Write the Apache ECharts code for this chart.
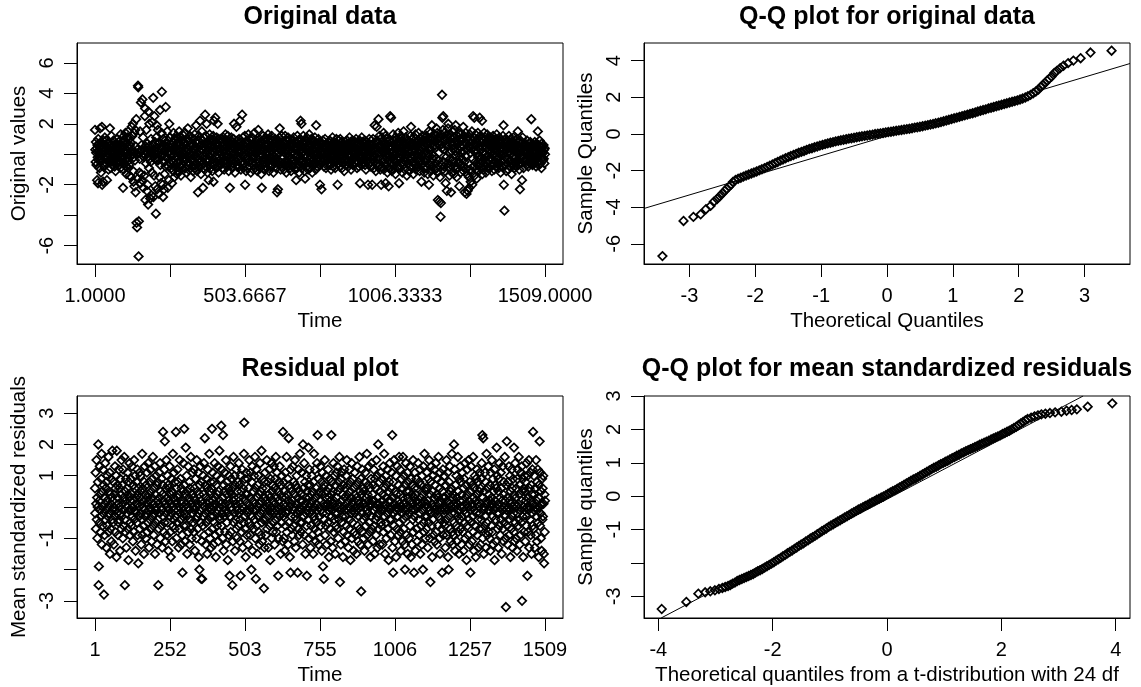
<!DOCTYPE html>
<html>
<head>
<meta charset="utf-8">
<script src="https://cdn.jsdelivr.net/npm/echarts@6/dist/echarts.min.js"></script>
<style>html,body{margin:0;padding:0;background:#fff}#c{width:1141px;height:687px}</style>
</head>
<body>
<div id="c"></div>
<script>
// Original data, in tenths (t = 1 .. 1509)
const originalTenths = [
16,3,-5,8,1,-7,4,-17,6,-2,-19,10,-4,2,7,-9,5,17,-1,3,-12,8,-3,18,-20,6,0,-18,9,-6,
4,-8,2,11,-3,6,-1,9,-6,3,-17,5,-2,7,0,-10,4,8,-5,1,17,-4,6,-9,2,12,-3,5,-7,1,
3,-5,9,0,-2,6,-8,4,1,-11,7,-3,5,2,-6,10,-1,3,-4,8,-7,0,6,-2,4,-9,13,1,-5,3,
6,-3,8,-1,-22,5,-10,12,2,-6,9,-4,14,-8,3,-13,7,1,-5,11,-2,15,-9,4,-7,10,-14,6,-1,8,
2,-15,-1,18,0,12,3,20,-11,-18,-2,14,-21,1,-4,16,-25,5,23,-45,0,-48,3,-16,45,44,-67,-44,1,-12,
-3,15,-19,2,34,-13,6,3,-17,36,-1,11,-22,4,-2,-14,0,25,30,-30,5,-6,16,1,-24,7,-20,-2,-33,28,
5,-9,20,-3,4,-29,1,-5,10,-27,2,-12,21,6,-1,37,-28,3,-14,25,-3,8,-21,0,-39,11,-4,19,-23,2,
-2,16,-4,7,-26,8,-15,1,29,-7,4,-19,3,14,41,-1,6,-20,-28,10,-5,-23,2,-13,9,-1,-8,31,3,5,
7,-2,15,-3,-22,9,-8,1,-17,20,2,-6,11,0,4,-4,-9,6,-19,3,-1,8,-11,14,-5,3,-15,10,-7,1,
5,-9,12,-2,7,-13,3,10,-6,1,-11,8,15,-4,6,-8,2,11,-14,4,-1,9,-7,13,-3,5,-10,7,0,-5,
8,-3,14,-9,2,6,-12,4,-1,10,-7,17,-5,3,-10,9,1,-6,12,-2,5,-15,7,-4,11,0,-8,6,-11,3,
-4,10,-7,3,13,-9,5,-2,8,19,-6,1,-11,7,4,-25,9,-3,12,-8,2,-5,22,-1,6,-13,10,-4,15,-7,
3,9,-22,5,-6,11,-2,7,-10,26,1,-8,12,4,20,-5,8,-12,2,6,-3,-17,9,-1,13,-7,5,-9,10,0,
-6,8,2,-11,6,-3,12,-18,4,22,-7,9,1,24,-5,7,-9,3,11,-2,6,20,-8,5,-12,10,-4,2,-6,9,
4,-7,10,0,-3,8,-9,5,2,-5,11,-1,6,-10,3,7,-4,13,-6,1,9,-2,-8,5,0,12,-5,3,-11,7,
-3,6,-22,4,9,-7,1,11,-4,5,-9,2,8,-1,-6,10,20,-3,7,-12,4,0,6,-5,18,2,-8,9,-2,5,
7,-4,3,10,-8,1,22,-2,5,-10,8,-5,2,26,-7,4,11,-1,-9,6,3,-6,12,-20,0,5,-11,8,-3,9,
-2,7,-9,4,13,-5,1,-8,10,3,-4,6,-12,9,0,-6,5,11,-3,2,-10,7,4,-7,14,-1,6,-9,3,8,
5,-6,9,1,-11,4,-3,16,-8,2,7,-5,10,-1,-9,6,3,-13,8,-22,0,5,-7,12,-4,2,9,-10,6,-2,
3,-8,11,-4,6,0,-9,7,2,-5,13,-3,4,-11,8,1,-6,10,-2,5,-8,3,12,-7,0,6,-4,9,-12,4,
-1,7,-6,4,10,-3,5,-9,2,8,-25,0,6,-23,-4,9,1,-7,11,17,-5,3,-10,6,2,-8,12,-3,5,-6,
8,-2,4,-10,7,1,-5,12,-7,3,6,-12,0,9,-4,5,-8,11,2,-6,4,-1,10,-9,3,7,-3,-11,6,1,
-5,9,2,-8,6,-3,11,0,-6,4,8,-10,3,-2,-17,7,5,-9,12,-1,4,-7,9,2,-12,6,-4,10,-3,22,
3,-6,20,5,-9,1,8,-4,12,-7,2,6,-11,4,-16,9,0,-5,7,-2,11,-8,3,6,-10,1,5,-3,13,-6,
4,-9,7,1,-5,10,-2,6,-12,3,8,-4,0,9,-7,5,-1,11,-6,2,-10,19,4,-3,7,-8,1,6,-5,10,
-2,5,-7,3,-20,8,1,-4,6,-23,2,7,-5,0,9,-3,4,-8,6,1,-6,10,-2,3,-9,5,0,7,-4,2,
6,-3,1,8,-6,4,-1,9,-7,2,5,-10,3,0,7,-4,11,-2,-8,5,2,-5,8,-1,4,-9,6,1,-3,10,
-4,3,7,-20,1,5,-6,9,-2,4,-8,2,10,-5,0,6,-3,8,-9,3,1,-6,7,-1,5,-11,4,2,-4,8,
1,-7,6,3,-3,9,-5,2,7,-8,0,5,-2,11,-6,4,-1,8,-10,3,6,-4,1,9,-7,2,5,-3,7,-5,
4,-2,8,-6,1,10,-4,3,-9,6,0,-5,7,2,-8,5,-1,9,-19,4,-3,6,-7,2,11,-4,1,-6,8,3,
-5,7,1,-3,9,-7,4,2,-10,6,-1,8,-4,3,5,-20,0,7,-6,10,-2,4,-8,1,6,-5,9,-3,2,-20,
6,-4,10,-1,3,-9,7,19,-5,2,8,-11,4,0,18,-6,9,-3,5,-8,23,1,-7,12,-2,4,-10,6,3,-20,
5,-8,11,2,-5,9,-3,14,-10,4,7,-6,1,12,-19,3,-7,10,-2,6,-12,8,0,-4,-21,9,-1,5,-9,25,
3,-6,24,-2,8,-11,5,1,-7,13,-4,9,2,-9,6,-1,11,-13,4,7,-5,10,-3,1,8,-8,14,-2,5,-19,
7,-3,10,-9,2,12,-6,4,-1,9,-12,5,1,-7,15,-4,3,8,-10,6,-2,11,-5,0,7,-14,4,9,-3,2,
-6,8,3,-11,6,1,-4,12,-8,18,-2,5,-9,10,2,-5,7,-13,4,11,-1,6,-7,3,13,-10,0,8,-4,5,
9,-2,6,-8,14,0,-5,7,-11,3,10,-4,2,-7,-18,8,-1,12,-6,4,-9,6,1,-12,9,3,-3,11,-5,7,
-4,12,-9,6,1,-13,8,-2,15,-20,4,10,-7,3,-11,14,-5,7,0,19,-8,11,-3,5,-14,9,-1,13,-10,6,
8,-6,12,-3,17,5,-9,14,-12,-30,7,-4,11,1,-31,9,-15,6,-41,-32,13,-7,4,39,24,-10,16,25,-5,10,
-8,14,3,-11,9,-19,6,-2,12,-24,5,10,-6,17,20,-9,1,13,-14,7,-3,11,-7,-25,8,2,-12,15,-4,6,
11,-5,8,-13,4,16,-8,2,-10,19,-1,9,-15,6,12,-4,7,-9,3,14,-6,-21,10,-2,5,-12,13,1,-7,9,
-3,10,-8,6,18,-11,2,12,-5,-25,8,-1,14,-9,4,-26,7,-13,11,-24,3,-6,9,-15,-22,5,13,-10,1,-18,
7,-12,4,15,-20,9,-3,25,-8,11,2,24,-14,6,-5,13,-10,3,8,-16,1,10,-7,14,-2,5,-11,9,-4,24,
-6,12,3,-9,8,-2,10,22,-13,5,-5,9,1,-10,14,-3,6,-8,11,0,-12,7,4,-6,13,-1,8,-9,3,10,
-4,7,2,-9,11,-2,5,-7,1,9,-11,4,-3,8,12,-6,0,6,-10,3,7,-5,10,-1,4,-8,13,-3,2,-6,
8,-3,5,-9,1,11,-6,3,7,-12,4,-1,9,-5,2,-8,6,12,-4,19,-20,3,-37,7,-2,10,-7,5,-11,4,
1,-6,9,-3,6,-10,4,12,-5,2,-8,7,0,10,-4,5,-13,3,8,-2,6,-7,11,-1,4,-9,2,7,-5,9,
-2,6,-8,4,10,-5,1,15,-7,3,8,-4,-10,5,-23,2,9,-6,3,-1,7,-17,4,11,-3,6,-9,2,5,-4,
3,-5,7,0,-3,6,-7,2,9,-4,1,5,-8,4,-2,7,-1,3,-6,8,0,-4,23,5,-3,6,-7,1,4,-5,
6,-2,3,-6,8,1,-4,5,-8,2,7,-3,4,-1,15,-5,6,0,-7,3,9,-2,5,-6,1,4,-9,7,-3,2,
5,-4,1,6,-3,3,-6,4,0
];

// Mean standardized residuals, in tenths (t = 1 .. 1509)
const residualTenths = [
6,-2,11,-7,1,15,-4,3,-10,0,8,20,-25,-19,2,-5,13,-1,4,-8,-3,9,17,-12,5,-6,0,12,-2,7,
-28,3,-9,1,14,-4,6,-1,-13,8,2,-6,10,-3,0,16,-8,5,-2,11,-15,4,-7,1,9,-11,3,-4,18,-1,
2,-5,8,-12,0,4,-3,13,-8,6,-1,10,-16,18,-2,7,3,-9,1,-5,12,-4,6,0,-14,9,-2,4,-7,15,
-3,7,1,-10,12,-6,3,-1,16,-4,-25,5,-8,2,9,-13,0,6,-2,11,-7,4,-17,8,-1,3,14,-9,2,-5,
9,-1,-6,4,13,-3,0,-11,7,2,-8,15,-4,6,-1,10,-14,3,-2,8,1,-5,12,-9,4,-18,6,0,-3,11,
-7,3,10,-2,5,-12,1,-4,17,-9,6,0,-6,2,-15,8,-1,13,-3,4,-10,7,-2,1,11,-8,3,-5,14,-1,
4,-13,2,8,-4,0,12,-7,5,-1,-11,3,9,-3,16,-6,1,-9,6,-2,13,-15,4,0,-5,10,-1,7,-12,2,
-4,8,-25,1,-7,11,3,-2,14,-10,5,0,-6,9,-1,-13,4,7,24,-3,2,-8,12,-5,21,1,-11,6,-2,15,
-9,3,0,10,-5,7,-14,2,-1,6,13,-3,-8,4,-16,1,9,-2,5,-11,0,17,-6,3,-4,11,-1,-7,8,2,
-3,24,6,-10,1,-5,12,3,-1,8,-13,4,0,-7,15,-2,9,-4,2,-12,6,1,-9,-21,5,-3,14,-6,0,25,
7,-2,-11,4,19,-6,1,10,-3,-15,5,0,13,-8,3,-1,8,-12,6,-4,2,16,-7,1,-10,4,-2,11,-5,0,
3,-8,12,-1,6,-14,2,9,-4,0,-10,15,-3,5,-7,1,11,-2,-16,4,-20,7,-1,13,-5,2,-23,8,-11,-23,
1,-6,10,-3,4,14,-9,0,22,-2,7,-12,3,-5,9,1,-15,6,-1,12,-4,2,-8,17,0,-10,5,-3,8,-13,
6,-1,25,-7,11,-3,2,-12,8,0,-5,14,3,-9,1,-16,7,-2,10,-6,4,-1,13,-11,5,0,-8,18,-3,2,
-4,9,1,26,-6,12,-2,-10,3,23,0,-14,7,-3,5,11,-8,1,-1,15,-12,4,-5,8,-2,-17,6,2,-9,10,
1,-22,5,-3,13,-8,0,9,-1,4,-25,6,-11,2,16,-5,3,-2,10,-14,7,-4,1,12,-7,0,-10,5,-1,8,
-6,3,14,-2,7,-11,1,-4,-22,10,5,-1,-8,12,0,-13,6,3,-5,17,27,-3,9,-7,2,-16,4,11,-1,-9,
4,-2,9,-12,1,6,-5,15,-1,3,-9,11,0,-6,-20,8,-3,13,-14,2,5,-1,-7,10,-4,1,16,-10,6,-23,
-1,12,-6,3,-15,7,0,-3,10,-8,4,1,-12,14,-2,5,-9,2,18,-5,-11,6,-1,9,-4,0,-26,8,-13,3,
11,-4,2,-9,6,0,15,-7,1,-3,8,-13,4,-1,12,-6,3,-17,9,-2,0,14,-10,5,-1,7,-8,2,-5,13,
-2,6,-12,1,9,-4,16,-1,-8,3,11,-6,0,5,-22,2,-10,8,-3,13,-1,4,-15,7,0,-5,10,-2,3,-11,
24,-3,8,-10,1,5,-14,0,11,-6,3,-2,16,-8,4,-1,9,-12,2,22,-5,7,0,-16,6,-21,12,-3,1,-7,
5,-9,2,13,-1,-6,8,0,-11,4,15,-3,7,-13,1,-4,10,-2,6,-21,3,-7,12,-1,-9,5,0,17,-5,2,
-8,4,-1,11,-5,2,-12,20,0,6,-3,14,-9,1,8,-15,3,-2,10,-6,-22,5,-1,7,-4,19,0,-10,3,12,
-2,7,-13,1,4,-6,10,-1,-9,5,2,-15,8,-3,17,0,-7,12,-4,3,-11,6,1,-5,14,-1,23,-8,4,-12,
9,-3,0,-10,5,13,-6,2,-1,8,-14,4,11,-2,-19,6,1,-23,7,-4,15,-9,3,0,-6,10,-2,-12,5,1,
-5,12,-1,6,-16,3,0,9,-7,2,-11,4,23,-3,8,-1,-13,5,1,14,-8,2,-4,10,-2,-15,7,0,-6,11,
3,-7,13,-2,5,-10,1,8,-4,16,0,-24,6,-1,-12,9,2,-5,11,-3,4,-16,7,0,-8,12,-1,3,-11,6,
-3,10,-6,1,15,-9,4,-1,7,-13,2,0,-7,12,-4,5,-17,8,-2,3,14,-10,1,-5,9,-1,-14,6,2,-8,
11,-2,4,-9,0,7,-15,3,-1,13,-6,2,-11,8,-3,1,16,-7,5,-12,0,9,-27,4,-2,12,-8,1,-4,6,
-10,5,1,-14,8,-3,11,0,-6,3,-1,17,-9,4,-2,7,-12,2,13,-5,0,-8,6,-16,1,9,-3,14,-7,2,
4,-11,7,-1,12,-6,2,-15,9,0,-4,6,-9,15,1,-3,10,-13,3,20,-7,1,-2,8,-12,5,0,11,-5,-1,
-6,9,2,-12,4,-1,13,-8,0,17,-3,6,-15,1,10,-5,3,-10,7,-2,12,-7,0,5,-17,2,8,-4,14,-1,
2,-9,6,-4,11,0,23,-13,3,-21,8,-2,15,-6,1,-11,5,-1,10,-16,4,0,-7,13,-3,2,-9,7,-1,16,
-5,1,12,-8,4,-14,0,9,-2,6,-11,3,16,-4,1,-7,10,-1,-12,-20,7,-3,14,0,-9,5,-1,11,-15,3,
8,-2,-10,5,0,13,-6,2,-16,9,-1,4,-12,7,1,-4,15,-8,3,-21,6,-3,11,-1,-14,4,0,9,-7,2,
-11,6,1,14,-4,0,-9,8,-2,12,-15,3,7,-6,1,-12,10,-1,4,-20,13,-5,2,-8,17,-3,0,6,-10,5,
1,-7,11,-3,6,-13,2,0,9,-5,15,-1,-10,4,-24,8,-2,13,-6,1,-16,5,-4,10,0,-9,3,12,-1,-11,
7,-2,14,-8,0,4,-12,9,-1,3,-6,16,-3,1,-10,6,-15,11,-4,2,8,-1,-7,-21,5,0,12,-9,3,-5,
-1,10,-6,3,-13,7,0,-4,15,-9,2,-1,11,-16,4,-20,8,-3,1,13,-7,5,-11,0,6,-2,17,-8,3,-12,
4,-9,1,20,-5,12,-2,-14,7,0,-6,10,3,-11,1,-3,16,-8,5,-1,-15,9,2,-4,13,-7,0,8,-12,4,
-3,11,-8,2,6,-14,0,9,-1,-5,14,-10,3,-2,7,-17,1,12,-6,4,-9,0,15,-4,2,-12,8,-1,-21,5,
13,-5,1,-11,7,0,-3,16,-8,3,-14,6,-1,10,-6,2,-16,9,-2,4,12,-9,1,-4,8,-13,0,5,-7,11,
-2,6,-12,1,9,-4,14,-7,23,-10,3,22,-1,-15,5,0,-6,11,-3,8,-13,2,17,-5,1,-9,6,-1,13,-8,
4,-1,-10,7,2,-14,11,0,-6,3,15,-8,1,-3,9,-12,5,-1,12,-17,2,7,-4,0,-11,6,19,-2,10,-7,
1,-13,5,9,-2,14,-6,0,-9,3,11,-4,6,-15,2,-1,13,-7,4,-11,8,0,-5,16,-3,2,-10,-32,7,-1,
21,-6,3,-12,8,0,-4,13,-9,2,-1,10,-16,5,1,-7,12,-3,6,-13,0,9,-2,-8,19,4,-11,1,14,-5,
3,-10,6,0,-14,9,-2,12,-6,1,16,-4,4,-12,7,-1,-9,11,2,-5,13,-30,5,-3,9,-16,0,6,-8,10,
-1,5,-11,8,2,-6,14,-3,0,-22,10,-8,3,-1,15,-13,6,0,-4,11,-9,2,7,-15,4,-2,12,-6,24,1,
-7,10,-1,4,-13,6,0,-9,15,-3,2,-11,8,-1,12,-5,3,-16,7,0,21,-6,11,-2,-10,5,1,-14,9,-4,
6,-3,10,1,-15,-18,4,-8,2
];

// Q-Q plot for original data: [theoretical quantile, sample quantile]
const qqOriginal = [
[-3.41,-6.67],[-3.09,-4.75],[-2.94,-4.53],[-2.83,-4.39],[-2.75,-4.11],[-2.68,-3.93],[-2.63,-3.70],
[-2.58,-3.55],[-2.54,-3.40],[-2.50,-3.25],[-2.46,-3.10],[-2.43,-2.98],[-2.40,-2.88],[-2.37,-2.78],[-2.34,-2.62],
[-2.30,-2.52],[-2.26,-2.45],[-2.22,-2.39],[-2.18,-2.33],[-2.14,-2.27],[-2.10,-2.22],[-2.06,-2.16],[-2.02,-2.11],
[-1.98,-2.05],[-1.94,-1.99],[-1.90,-1.93],[-1.86,-1.87],[-1.82,-1.80],[-1.78,-1.74],[-1.74,-1.67],[-1.70,-1.60],
[-1.66,-1.53],[-1.62,-1.46],[-1.58,-1.40],[-1.54,-1.33],[-1.50,-1.27],[-1.46,-1.21],[-1.42,-1.15],[-1.38,-1.09],
[-1.34,-1.03],[-1.30,-0.98],[-1.26,-0.93],[-1.22,-0.87],[-1.18,-0.82],[-1.14,-0.78],[-1.10,-0.73],[-1.06,-0.69],
[-1.02,-0.64],[-0.98,-0.60],[-0.94,-0.56],[-0.90,-0.52],[-0.86,-0.48],[-0.82,-0.45],[-0.78,-0.41],[-0.74,-0.38],
[-0.70,-0.35],[-0.66,-0.32],[-0.62,-0.29],[-0.58,-0.26],[-0.54,-0.24],[-0.50,-0.21],[-0.46,-0.18],[-0.42,-0.16],
[-0.38,-0.13],[-0.34,-0.11],[-0.30,-0.09],[-0.26,-0.06],[-0.22,-0.04],[-0.18,-0.01],[-0.14,0.01],[-0.10,0.03],
[-0.06,0.05],[-0.02,0.08],[0.02,0.10],[0.06,0.12],[0.10,0.14],[0.14,0.17],[0.18,0.19],[0.22,0.21],
[0.26,0.24],[0.30,0.26],[0.34,0.28],[0.38,0.31],[0.42,0.34],[0.46,0.36],[0.50,0.39],[0.54,0.42],
[0.58,0.45],[0.62,0.48],[0.66,0.51],[0.70,0.54],[0.74,0.58],[0.78,0.61],[0.82,0.65],[0.86,0.69],
[0.90,0.73],[0.94,0.77],[0.98,0.81],[1.02,0.85],[1.06,0.89],[1.10,0.93],[1.14,0.97],[1.18,1.01],
[1.22,1.05],[1.26,1.09],[1.30,1.13],[1.34,1.17],[1.38,1.22],[1.42,1.26],[1.46,1.30],[1.50,1.34],
[1.54,1.39],[1.58,1.43],[1.62,1.47],[1.66,1.51],[1.70,1.55],[1.74,1.59],[1.78,1.63],[1.82,1.67],
[1.86,1.71],[1.90,1.75],[1.94,1.79],[1.98,1.83],[2.02,1.88],[2.06,1.93],[2.10,1.99],[2.14,2.05],
[2.18,2.13],[2.22,2.22],[2.26,2.31],[2.30,2.42],[2.34,2.58],
[2.37,2.68],[2.40,2.78],[2.43,2.90],[2.46,3.00],[2.50,3.13],[2.54,3.32],[2.58,3.44],[2.63,3.59],
[2.68,3.72],[2.75,3.86],[2.83,4.00],[2.94,4.13],[3.09,4.44],[3.41,4.54]
];
const qqOriginalLine = [[-3.69,-4.07],[3.69,3.84]];

// Q-Q plot for mean standardized residuals: [t(24) quantile, sample quantile]
const qqResidual = [
[-3.94,-3.38],[-3.51,-3.17],[-3.30,-2.92],[-3.18,-2.88],[-3.09,-2.85],[-3.01,-2.82],[-2.94,-2.78],
[-2.88,-2.75],[-2.83,-2.72],[-2.78,-2.69],[-2.74,-2.66],[-2.70,-2.62],[-2.66,-2.59],
[-2.62,-2.54],[-2.58,-2.51],[-2.54,-2.48],[-2.50,-2.45],[-2.46,-2.42],[-2.42,-2.39],[-2.38,-2.36],[-2.34,-2.33],
[-2.30,-2.29],[-2.26,-2.25],[-2.22,-2.22],[-2.18,-2.18],[-2.14,-2.14],[-2.10,-2.10],[-2.06,-2.06],[-2.02,-2.02],
[-1.98,-1.98],[-1.94,-1.93],[-1.90,-1.89],[-1.86,-1.85],[-1.82,-1.80],[-1.78,-1.76],[-1.74,-1.71],[-1.70,-1.67],
[-1.66,-1.63],[-1.62,-1.58],[-1.58,-1.54],[-1.54,-1.49],[-1.50,-1.45],[-1.46,-1.41],[-1.42,-1.36],[-1.38,-1.32],
[-1.34,-1.27],[-1.30,-1.23],[-1.26,-1.19],[-1.22,-1.14],[-1.18,-1.10],[-1.14,-1.05],[-1.10,-1.01],[-1.06,-0.97],
[-1.02,-0.92],[-0.98,-0.88],[-0.94,-0.84],[-0.90,-0.80],[-0.86,-0.76],[-0.82,-0.72],[-0.78,-0.68],[-0.74,-0.64],
[-0.70,-0.60],[-0.66,-0.56],[-0.62,-0.52],[-0.58,-0.48],[-0.54,-0.44],[-0.50,-0.40],[-0.46,-0.37],[-0.42,-0.33],
[-0.38,-0.29],[-0.34,-0.26],[-0.30,-0.22],[-0.26,-0.18],[-0.22,-0.15],[-0.18,-0.11],[-0.14,-0.08],[-0.10,-0.04],
[-0.06,-0.01],[-0.02,0.03],[0.02,0.07],[0.06,0.11],[0.10,0.15],[0.14,0.18],[0.18,0.22],[0.22,0.26],
[0.26,0.30],[0.30,0.34],[0.34,0.38],[0.38,0.42],[0.42,0.46],[0.46,0.50],[0.50,0.53],[0.54,0.57],
[0.58,0.61],[0.62,0.65],[0.66,0.69],[0.70,0.73],[0.74,0.77],[0.78,0.81],[0.82,0.85],[0.86,0.88],
[0.90,0.92],[0.94,0.96],[0.98,0.99],[1.02,1.03],[1.06,1.06],[1.10,1.10],[1.14,1.14],[1.18,1.17],
[1.22,1.21],[1.26,1.24],[1.30,1.28],[1.34,1.31],[1.38,1.35],[1.42,1.38],[1.46,1.41],[1.50,1.44],
[1.54,1.47],[1.58,1.50],[1.62,1.54],[1.66,1.57],[1.70,1.60],[1.74,1.63],[1.78,1.66],[1.82,1.70],
[1.86,1.73],[1.90,1.76],[1.94,1.79],[1.98,1.82],[2.02,1.86],[2.06,1.89],[2.10,1.93],[2.14,1.96],
[2.18,2.00],[2.22,2.04],[2.26,2.08],[2.30,2.13],[2.34,2.18],[2.38,2.22],[2.42,2.27],
[2.46,2.31],[2.52,2.35],[2.58,2.39],[2.64,2.42],[2.70,2.45],[2.77,2.47],[2.85,2.49],[2.94,2.51],
[3.05,2.53],[3.14,2.56],[3.23,2.58],[3.32,2.60],[3.51,2.68],[3.94,2.78]
];
const qqResidualLine = [[-3.95,-3.65],[3.43,3.00]];

// Axis ticks and labels
const timeTicks = [1, 252.3333, 503.6667, 755, 1006.3333, 1257.6667, 1509];
const originalTimeLabels = [1, 503.6667, 1006.3333, 1509];
const originalYTicks = [-6, -4, -2, 0, 2, 4, 6];
const originalYLabels = [-6, -2, 2, 4, 6];
const qqOrigXTicks = [-3, -2, -1, 0, 1, 2, 3];
const qqOrigYTicks = [-6, -4, -2, 0, 2, 4];
const residYTicks = [-3, -2, -1, 0, 1, 2, 3];
const residYLabels = [-3, -1, 1, 2, 3];
const qqResXTicks = [-4, -2, 0, 2, 4];
const qqResYTicks = [-3, -2, -1, 0, 1, 2, 3];
const qqResYLabels = [-3, -1, 0, 1, 2, 3];

const FONT = "'Liberation Sans', Arial, Helvetica, sans-serif";
const chart = echarts.init(document.getElementById('c'), null, {renderer: 'canvas'});

function makeAxis(gridIndex, min, max, ticks, labels, name, isY, fmt) {
  return {
    type: 'value', gridIndex: gridIndex, min: min, max: max,
    name: name, nameLocation: 'middle', nameGap: 47, nameRotate: isY ? 90 : 0,
    nameTextStyle: {fontFamily: FONT, fontSize: 20.5, color: '#000'},
    axisLine: {show: true, onZero: false, lineStyle: {color: '#000', width: 1}},
    axisTick: {show: true, inside: false, length: 13, customValues: ticks, lineStyle: {color: '#000', width: 1}},
    axisLabel: {show: true, customValues: labels, rotate: isY ? 90 : 0, margin: isY ? 20 : 22,
      fontFamily: FONT, fontSize: 20, color: '#000', formatter: fmt || function (v) { return String(v); }},
    splitLine: {show: false}
  };
}

function scatter(idx, data) {
  return {
    type: 'scatter', xAxisIndex: idx, yAxisIndex: idx, data: data,
    symbol: 'diamond', symbolSize: 8.5, silent: true, animation: false, progressive: 0, large: false,
    itemStyle: {color: 'rgba(0,0,0,0)', borderColor: '#000', borderWidth: 1.7, opacity: 1},
    emphasis: {disabled: true}, z: 2
  };
}

function refLine(idx, data) {
  return {
    type: 'line', xAxisIndex: idx, yAxisIndex: idx, data: data, symbol: 'none', silent: true,
    animation: false, clip: true, lineStyle: {color: '#000', width: 1}, z: 3
  };
}

function titleAt(text, x, top) {
  return {text: text, left: x, top: top, textAlign: 'center', padding: 0,
    textStyle: {fontFamily: FONT, fontSize: 25, fontWeight: 'bold', color: '#000'}};
}

const gridStyle = {show: true, borderColor: '#000', borderWidth: 1, backgroundColor: 'rgba(0,0,0,0)', containLabel: false};

const option = {
  backgroundColor: '#fff',
  animation: false,
  title: [
    titleAt('Original data', 320, 5),
    titleAt('Q-Q plot for original data', 887, 5),
    titleAt('Residual plot', 320, 357),
    titleAt('Q-Q plot for mean standardized residuals', 887, 357)
  ],
  grid: [
    Object.assign({left: 77, top: 43, width: 486, height: 221}, gridStyle),
    Object.assign({left: 644, top: 43, width: 486, height: 221}, gridStyle),
    Object.assign({left: 77, top: 396, width: 486, height: 222}, gridStyle),
    Object.assign({left: 644, top: 396, width: 486, height: 222}, gridStyle)
  ],
  xAxis: [
    makeAxis(0, -59.32, 1569.32, timeTicks, originalTimeLabels, 'Time', false, function (v) { return v.toFixed(4); }),
    makeAxis(1, -3.69, 3.69, qqOrigXTicks, qqOrigXTicks, 'Theoretical Quantiles', false),
    makeAxis(2, -59.32, 1569.32, timeTicks, timeTicks, 'Time', false, function (v) { return String(Math.floor(v + 1e-9)); }),
    makeAxis(3, -4.25, 4.25, qqResXTicks, qqResXTicks, 'Theoretical quantiles from a t-distribution with 24 df', false)
  ],
  yAxis: [
    makeAxis(0, -7.2, 7.3, originalYTicks, originalYLabels, 'Original values', true),
    makeAxis(1, -7.1, 4.96, qqOrigYTicks, qqOrigYTicks, 'Sample Quantiles', true),
    makeAxis(2, -3.55, 3.55, residYTicks, residYLabels, 'Mean standardized residuals', true),
    makeAxis(3, -3.65, 3.0, qqResYTicks, qqResYLabels, 'Sample quantiles', true)
  ],
  series: [
    scatter(0, originalTenths.map(function (v, i) { return [i + 1, v / 10]; })),
    scatter(1, qqOriginal),
    refLine(1, qqOriginalLine),
    scatter(2, residualTenths.map(function (v, i) { return [i + 1, v / 10]; })),
    scatter(3, qqResidual),
    refLine(3, qqResidualLine)
  ]
};
chart.setOption(option);
</script>
</body>
</html>
